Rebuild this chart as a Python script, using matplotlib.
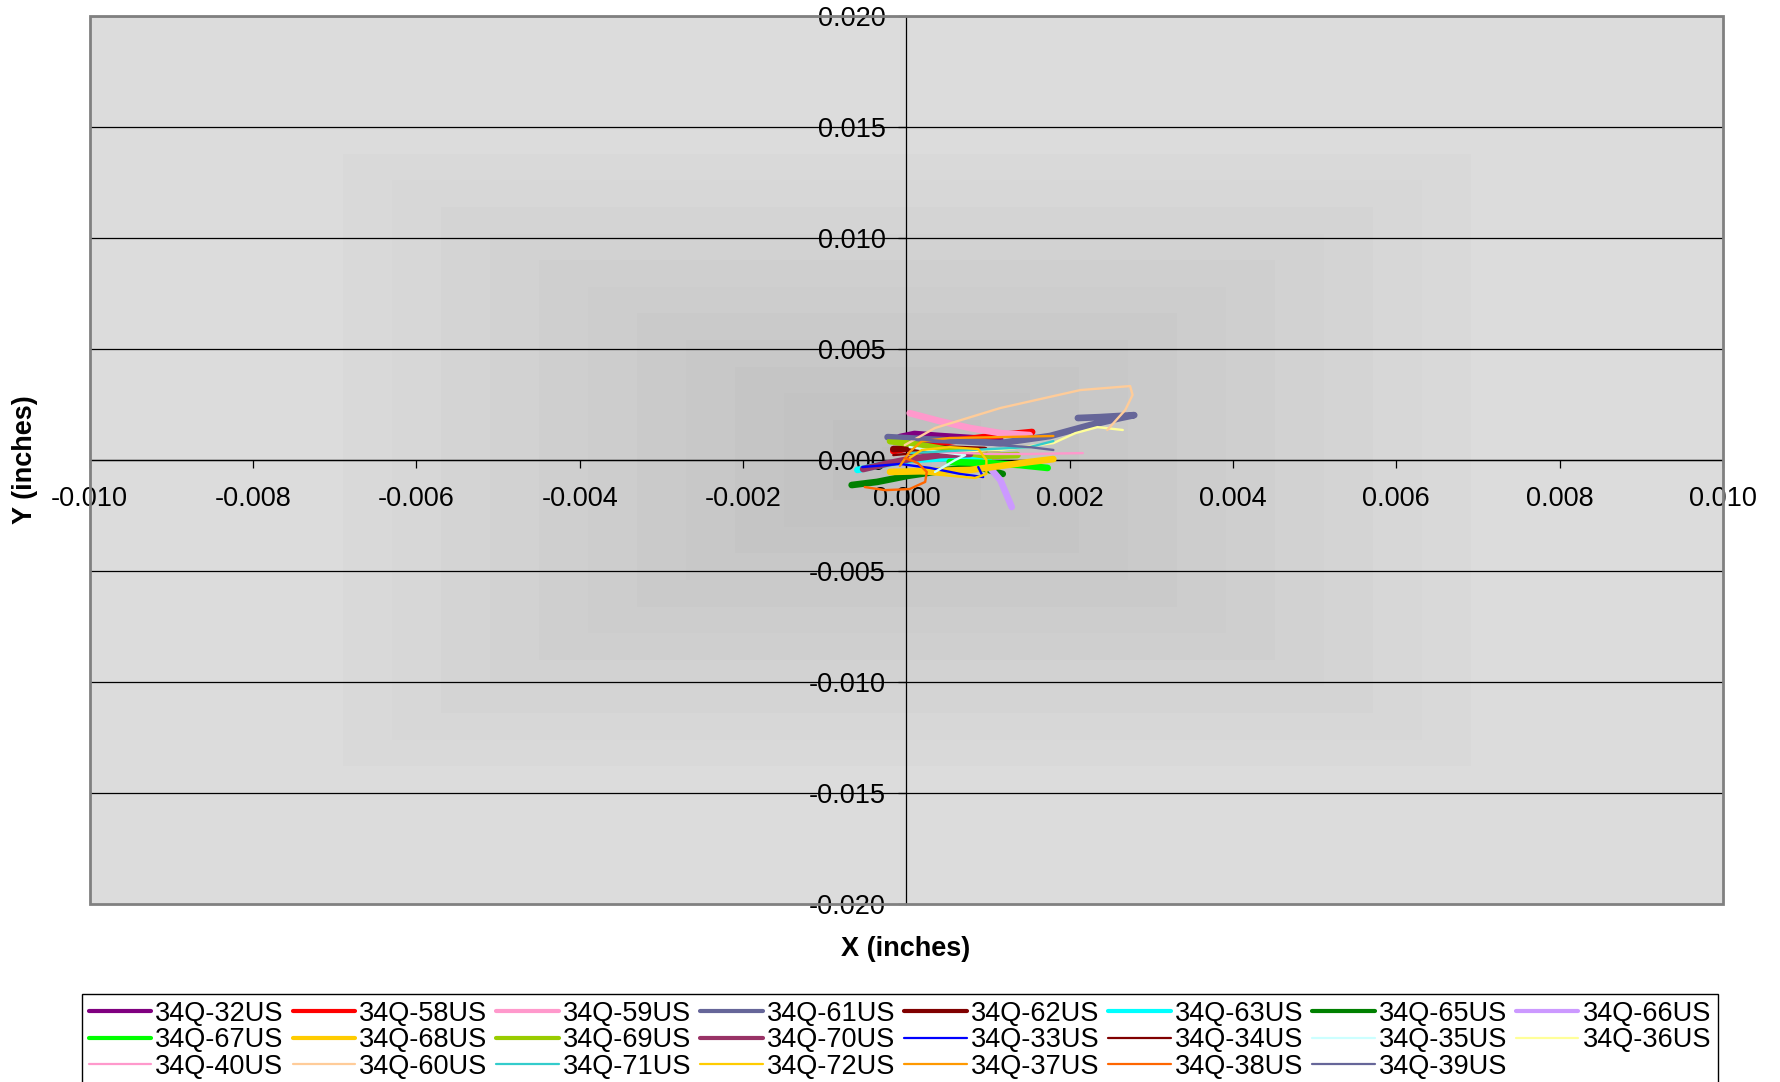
import numpy as np
import matplotlib
matplotlib.use("Agg")
import matplotlib.pyplot as plt
from matplotlib.patches import Rectangle

plt.rcParams['font.family'] = ['Liberation Sans', 'DejaVu Sans']

# ---- data (inches) ----
labels = ['34Q-32US', '34Q-58US', '34Q-59US', '34Q-61US', '34Q-62US', '34Q-63US',
          '34Q-65US', '34Q-66US', '34Q-67US', '34Q-68US', '34Q-69US', '34Q-70US',
          '34Q-33US', '34Q-34US', '34Q-35US', '34Q-36US', '34Q-40US', '34Q-60US',
          '34Q-71US', '34Q-72US', '34Q-37US', '34Q-38US', '34Q-39US']

x_32 = [-0.00008, 0.00010, 0.00041, 0.00078, 0.00115]
y_32 = [0.00102, 0.00116, 0.00107, 0.00098, 0.00089]
x_58 = [-0.00016, 0.00017, 0.00066, 0.00115, 0.00154]
y_58 = [0.00039, 0.00062, 0.00089, 0.00111, 0.00125]
x_59 = [0.00004, 0.00041, 0.00078, 0.00115, 0.00151]
y_59 = [0.00210, 0.00174, 0.00143, 0.00120, 0.00111]
x_61 = [-0.00023, 0.00041, 0.00115, 0.00176, 0.00225, 0.00262, 0.00279, 0.00237, 0.00210]
y_61 = [0.00102, 0.00089, 0.00075, 0.00107, 0.00156, 0.00188, 0.00201, 0.00192, 0.00188]
x_62 = [-0.00016, 0.00029, 0.00066, 0.00096]
y_62 = [0.00048, 0.00053, 0.00048, 0.00044]
x_63 = [-0.00060, -0.00032, 0.00004, 0.00053, 0.00102]
y_63 = [-0.00046, -0.00024, -0.00001, 0.00008, 0.00012]
x_65 = [-0.00067, -0.00036, 0.00001, 0.00041, 0.00084, 0.00118]
y_65 = [-0.00114, -0.00100, -0.00073, -0.00051, -0.00028, -0.00064]
x_66 = [0.00096, 0.00115, 0.00129]
y_66 = [-0.00010, -0.00091, -0.00213]
x_67 = [0.00053, 0.00102, 0.00139, 0.00173]
y_67 = [-0.00010, -0.00015, -0.00024, -0.00037]
x_68 = [-0.00020, 0.00029, 0.00078, 0.00115, 0.00151, 0.00180]
y_68 = [-0.00055, -0.00051, -0.00046, -0.00028, -0.00010, 0.00003]
x_69 = [-0.00020, 0.00017, 0.00066, 0.00102, 0.00136]
y_69 = [0.00084, 0.00066, 0.00035, 0.00017, 0.00021]
x_70 = [-0.00053, -0.00026, 0.00004, 0.00041, 0.00078]
y_70 = [-0.00042, -0.00019, 0.00003, 0.00021, 0.00026]
x_33 = [-0.00054, -0.00008, 0.00029, 0.00066, 0.00094, 0.00088]
y_33 = [-0.00033, -0.00019, -0.00037, -0.00064, -0.00078, -0.00033]
x_34 = [-0.00016, 0.00029, 0.00078, 0.00115]
y_34 = [0.00021, 0.00035, 0.00039, 0.00044]
x_35 = [0.00004, 0.00041, 0.00072, 0.00060, 0.00035]
y_35 = [0.00057, 0.00035, 0.00021, -0.00001, -0.00055]
x_36 = [0.00053, 0.00115, 0.00180, 0.00207, 0.00234, 0.00265]
y_36 = [0.00035, 0.00044, 0.00075, 0.00120, 0.00147, 0.00134]
x_40 = [0.00041, 0.00102, 0.00151, 0.00216]
y_40 = [0.00035, 0.00026, 0.00026, 0.00030]
x_60 = [-0.00002, 0.00035, 0.00115, 0.00213, 0.00274, 0.00277, 0.00268, 0.00246]
y_60 = [0.00066, 0.00143, 0.00233, 0.00314, 0.00332, 0.00292, 0.00224, 0.00134]
x_71 = [0.00004, 0.00053, 0.00102, 0.00151, 0.00180]
y_71 = [0.00030, 0.00039, 0.00048, 0.00057, 0.00084]
x_72 = [-0.00016, 0.00029, 0.00084, 0.00098, 0.00098, 0.00088, 0.00053, 0.00019, 0.00004]
y_72 = [-0.00046, -0.00064, -0.00082, -0.00064, -0.00001, 0.00048, 0.00057, 0.00044, 0.00008]
x_37 = [-0.00008, 0.00004, 0.00019, 0.00053, 0.00115, 0.00180]
y_37 = [-0.00028, 0.00035, 0.00084, 0.00098, 0.00102, 0.00107]
x_38 = [-0.00051, -0.00026, 0.00004, 0.00023, 0.00025, 0.00014, -0.00002]
y_38 = [-0.00123, -0.00137, -0.00132, -0.00100, -0.00055, -0.00015, 0.00008]
x_39 = [-0.00023, 0.00029, 0.00090, 0.00151, 0.00180]
y_39 = [0.00098, 0.00089, 0.00071, 0.00057, 0.00044]

xs = [x_32, x_58, x_59, x_61, x_62, x_63, x_65, x_66, x_67, x_68, x_69, x_70,
      x_33, x_34, x_35, x_36, x_40, x_60, x_71, x_72, x_37, x_38, x_39]
ys = [y_32, y_58, y_59, y_61, y_62, y_63, y_65, y_66, y_67, y_68, y_69, y_70,
      y_33, y_34, y_35, y_36, y_40, y_60, y_71, y_72, y_37, y_38, y_39]

# ---- styles ----
colors = ['#800080', '#FF0000', '#FF99CC', '#666699', '#800000', '#00FFFF',
          '#008000', '#CC99FF', '#00FF00', '#FFCC00', '#99CC00', '#993366',
          '#0000FF', '#800000', '#CCFFFF', '#FFFF99', '#FF99CC', '#FFCC99',
          '#33CCCC', '#FFCC00', '#FF9900', '#FF6600', '#666699']
thick = 12

fig = plt.figure(figsize=(17.8, 10.82), dpi=100)
ax = fig.add_axes([0.0504, 0.1649, 0.9176, 0.8204])

# grey "from centre" gradient fill
u = np.linspace(-1, 1, 400)
U, V = np.meshgrid(u, u)
val = np.clip(np.maximum(np.abs(U), np.abs(V)) / 0.72, 0, 1)
val = np.round(val * 12) / 12
shade = (190 + 30 * val) / 255.0
ax.imshow(np.dstack([shade, shade, shade]), extent=(-0.01, 0.01, -0.02, 0.02),
          aspect='auto', zorder=0, interpolation='nearest')

for yv in np.arange(-0.015, 0.0201, 0.005):
    ax.axhline(yv, color='black', lw=0.9, zorder=1)

handles = []
for i, (x, y) in enumerate(zip(xs, ys)):
    lw = 4.8 if i < thick else 1.7
    h, = ax.plot(x, y, color=colors[i], lw=lw, label=labels[i], zorder=3,
                 solid_capstyle='round', solid_joinstyle='round')
    handles.append(h)

ax.set_xlim(-0.010, 0.010)
ax.set_ylim(-0.020, 0.020)
ax.set_xticks(np.arange(-0.010, 0.0101, 0.002))
ax.set_yticks(np.arange(-0.020, 0.0201, 0.005))
fmt = plt.FuncFormatter(lambda v, p: f'{v:.3f}'.replace('-0.000', '0.000'))
ax.xaxis.set_major_formatter(fmt)
ax.yaxis.set_major_formatter(fmt)

ax.spines['left'].set_position(('data', 0))
ax.spines['bottom'].set_position(('data', 0))
ax.spines['top'].set_visible(False)
ax.spines['right'].set_visible(False)
for s in ['left', 'bottom']:
    ax.spines[s].set_color('black')
    ax.spines[s].set_linewidth(0.9)
    ax.spines[s].set_zorder(2)
ax.tick_params(axis='both', labelsize=19.5, direction='out', length=6, width=0.9, color='black')
ax.tick_params(axis='x', pad=13)
ax.tick_params(axis='y', pad=9)

ax.add_patch(Rectangle((0, 0), 1, 1, transform=ax.transAxes, fill=False,
                       edgecolor='#808080', lw=2, zorder=5, clip_on=False))

fig.text(906 / 1780, 1 - 949 / 1082, 'X (inches)', ha='center', va='center',
         fontsize=19.5, fontweight='bold')
fig.text(25 / 1780, 1 - 460 / 1082, 'Y (inches)', ha='center', va='center',
         fontsize=19.5, fontweight='bold', rotation=90)

# legend is filled row-wise in the original, matplotlib fills column-wise
ncol = 8
nrow = 3
order = []
for c in range(ncol):
    for r in range(nrow):
        k = r * ncol + c
        if k < len(handles):
            order.append(k)
leg = fig.legend([handles[k] for k in order], [labels[k] for k in order],
                 ncol=ncol, loc='upper left', bbox_to_anchor=(0.046, -0.2, 0.919, 0.2813),
                 mode='expand', fontsize=19.5, frameon=True, fancybox=False,
                 edgecolor='black', framealpha=1, borderaxespad=0,
                 handlelength=2.3, handletextpad=0.15, labelspacing=0.02,
                 borderpad=0.25, columnspacing=0.6)
leg.get_frame().set_linewidth(1.0)
for lh, k in zip(leg.get_lines(), order):
    lh.set_linewidth(3.0 if k < thick else 1.6)

fig.savefig('out.png', dpi=100)
